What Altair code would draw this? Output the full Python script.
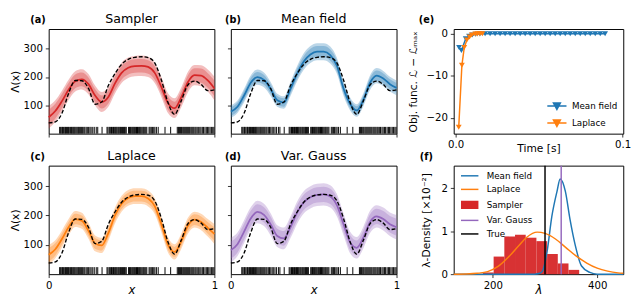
import altair as alt
import pandas as pd

FONT = "DejaVu Sans"
C_BLUE = "#1f77b4"
C_ORANGE = "#ff7f0e"
C_RED = "#d62728"
C_PURPLE = "#9467bd"

# ---------------- data: intensity panels (a)-(d) ----------------
x_grid = [0.00, 0.04, 0.08, 0.12, 0.16, 0.20, 0.24, 0.28, 0.32, 0.36, 0.40, 0.44, 0.48,
          0.52, 0.56, 0.60, 0.64, 0.68, 0.72, 0.76, 0.80, 0.84, 0.88, 0.92, 0.96, 1.00]
true_rate = [38, 42, 72, 142, 188, 187, 160, 104, 112, 170, 212, 245, 263,
             270, 272, 269, 250, 190, 110, 68, 116, 172, 186, 174, 152, 155]

sampler_mean = [58, 80, 115, 155, 185, 192, 175, 135, 112, 130, 178, 215, 233,
                239, 240, 236, 215, 165, 108, 90, 128, 182, 207, 205, 188, 160]
sampler_outer = [40, 38, 37, 36, 36, 36, 36, 35, 35, 35, 36, 36, 36,
                 36, 36, 36, 36, 35, 35, 35, 35, 36, 36, 37, 39, 42]
sampler_inner = [27, 26, 25, 24, 24, 24, 24, 23, 23, 23, 24, 24, 24,
                 24, 24, 24, 24, 23, 23, 23, 23, 24, 24, 25, 26, 28]

mf_mean = [78, 95, 135, 180, 200, 190, 158, 118, 110, 158, 212, 255, 280,
           290, 290, 278, 240, 160, 105, 82, 120, 180, 205, 195, 175, 162]
mf_outer = [22, 22, 24, 26, 27, 26, 25, 23, 22, 25, 27, 29, 30,
            30, 30, 30, 28, 26, 23, 22, 23, 26, 27, 27, 26, 26]
mf_inner = [15, 15, 16, 17, 18, 17, 16, 15, 15, 16, 18, 19, 20,
            20, 20, 20, 19, 17, 15, 15, 15, 17, 18, 18, 17, 17]

lap_mean = [66, 85, 120, 160, 188, 182, 148, 105, 98, 140, 200, 240, 260,
            266, 266, 258, 232, 170, 100, 76, 112, 165, 186, 178, 158, 137]
lap_outer = [34, 31, 29, 28, 27, 27, 27, 27, 26, 26, 27, 27, 27,
             27, 27, 27, 27, 27, 26, 26, 26, 27, 27, 28, 30, 34]
lap_inner = [23, 21, 19, 18, 18, 18, 18, 18, 17, 17, 18, 18, 18,
             18, 18, 18, 18, 18, 17, 17, 17, 18, 18, 19, 20, 23]

vg_mean = [82, 102, 145, 190, 212, 202, 170, 130, 122, 160, 210, 245, 262,
           270, 272, 265, 235, 170, 108, 90, 125, 178, 197, 188, 170, 160]
vg_outer = [42, 40, 39, 38, 38, 38, 38, 37, 37, 37, 38, 38, 38,
            38, 38, 38, 38, 37, 37, 37, 37, 38, 38, 39, 40, 42]
vg_inner = [29, 28, 27, 26, 26, 26, 26, 25, 25, 25, 26, 26, 26,
            26, 26, 26, 26, 25, 25, 25, 25, 26, 26, 27, 28, 29]

events = [0.066, 0.072, 0.079, 0.083, 0.090, 0.097, 0.101, 0.108, 0.113, 0.119, 0.124,
          0.131, 0.137, 0.142, 0.148, 0.153, 0.158, 0.164, 0.170, 0.176, 0.181, 0.187,
          0.193, 0.199, 0.205, 0.212, 0.218, 0.226, 0.233, 0.241, 0.249, 0.256, 0.266,
          0.275, 0.287, 0.296, 0.322, 0.352, 0.358, 0.366, 0.372, 0.379, 0.384, 0.391,
          0.396, 0.402, 0.407, 0.412, 0.418, 0.423, 0.429, 0.434, 0.440, 0.446, 0.451,
          0.457, 0.462, 0.468, 0.482, 0.488, 0.493, 0.498, 0.504, 0.509, 0.514, 0.519,
          0.525, 0.530, 0.536, 0.541, 0.547, 0.552, 0.557, 0.563, 0.569, 0.574, 0.580,
          0.586, 0.592, 0.606, 0.612, 0.619, 0.626, 0.634, 0.641, 0.650, 0.661, 0.702,
          0.736, 0.776, 0.783, 0.789, 0.796, 0.802, 0.809, 0.815, 0.821, 0.827, 0.833,
          0.839, 0.845, 0.851, 0.858, 0.864, 0.870, 0.876, 0.883, 0.889, 0.896, 0.903,
          0.912, 0.919, 0.927, 0.934, 0.943, 0.951, 0.958, 0.966, 0.974, 0.982, 0.990,
          0.997]

# ---------------- data: panel (e) ----------------
mf_time = [0.0020, 0.0034, 0.0060, 0.0080, 0.0100, 0.0120, 0.0145,
           0.0176, 0.0206, 0.0236, 0.0266, 0.0296, 0.0326, 0.0356, 0.0386, 0.0416,
           0.0446, 0.0476, 0.0506, 0.0536, 0.0566, 0.0596, 0.0626, 0.0656, 0.0686,
           0.0716, 0.0746, 0.0776, 0.0806, 0.0836, 0.0866, 0.0895]
mf_obj = [-3.3, -4.0, -1.2, -0.6, -0.3, -0.15, -0.05,
          0, 0, 0, 0, 0, 0, 0, 0, 0, 0, 0, 0, 0, 0, 0, 0, 0, 0, 0, 0, 0, 0, 0, 0, 0]
lap_time = [0.0018, 0.0037, 0.0051, 0.0067, 0.0083, 0.0096, 0.0117, 0.0130, 0.0145, 0.0160]
lap_obj = [-22.2, -7.5, -3.3, -1.5, -0.8, -0.3, -0.1, -0.05, 0.0, 0.0]
e_labels = ["Mean field", "Laplace"]

# ---------------- data: panel (f) ----------------
hist_left = [181, 201.5, 222, 242.5, 263, 283.5, 304, 324.5, 345]
hist_right = [201.5, 222, 242.5, 263, 283.5, 304, 324.5, 345, 365.5]
hist_density = [0.04, 0.41, 0.88, 0.92, 0.85, 0.77, 0.47, 0.25, 0.10]
lap_lam = [125, 150, 170, 190, 210, 230, 250, 265, 285, 300, 320, 340, 360, 380, 400, 420, 440, 450]
lap_dens = [0.0, 0.005, 0.02, 0.06, 0.18, 0.40, 0.67, 0.86, 0.98, 0.95, 0.82, 0.62, 0.42, 0.26,
            0.14, 0.07, 0.03, 0.02]
mfd_lam = [125, 280, 290, 295, 304, 313, 323, 329, 339, 348, 358, 370, 386, 400, 450]
mfd_dens = [0, 0, 0.02, 0.07, 0.53, 1.34, 1.93, 2.22, 1.93, 1.27, 0.67, 0.19, 0.04, 0, 0]
true_lambda = [300]
vg_lambda = [331]
f_labels = ["Mean field", "Laplace", "Sampler", "Var. Gauss", "True"]

# ---------------- layout ----------------
W12, W3 = 171, 175
H1, H2 = 108, 112

LINE_E = "M-2.2,0H2.2M-0.8,-0.7H0.8L0,0.8ZM-0.5,-0.45H0.5L0,0.4ZM-0.2,-0.25H0.2L0,0.05Z"
LINE_F = "M-2,0H2"
RECT_F = "M-2,-0.8H2M-2,-0.5H2M-2,-0.2H2M-2,0.1H2M-2,0.4H2M-2,0.7H2M-2,0.8H2"


def label_text(txt, dx, size, bold=False, opacity=1.0, align="left"):
    return alt.Chart(pd.DataFrame({"t": [txt]})).mark_text(
        font=FONT, fontSize=size, fontWeight="bold" if bold else "normal",
        baseline="alphabetic", align=align, color="black", opacity=opacity
    ).encode(text="t:N", x=alt.value(dx), y=alt.value(-6))


def rate_panel(title, tag, tag_dx, mean, inner, outer, color, width, height, bottom, left):
    df = pd.DataFrame({
        "x": x_grid, "mean": mean, "true": true_rate,
        "lo_o": [m - w for m, w in zip(mean, outer)],
        "hi_o": [m + w for m, w in zip(mean, outer)],
        "lo_i": [m - w for m, w in zip(mean, inner)],
        "hi_i": [m + w for m, w in zip(mean, inner)],
    })
    xs = alt.Scale(domain=[0, 1], nice=False, zero=False)
    ys = alt.Scale(domain=[0, 370], nice=False, zero=False)
    if bottom:
        xax = alt.Axis(values=[0, 1], format="d", title="x", titleFontStyle="italic",
                       titleFontSize=12, titleY=20, titleBaseline="alphabetic")
    else:
        xax = alt.Axis(values=[0, 1], labels=False, title=None)
    if left:
        yax = alt.Axis(values=[100, 200, 300], format="d", title="Λ(x)", titlePadding=3)
    else:
        yax = alt.Axis(values=[100, 200, 300], labels=False, title=None)
    X = alt.X("x:Q", scale=xs, axis=xax)
    base = alt.Chart(df)
    l_out = base.mark_area(color=color, opacity=0.3, interpolate="monotone").encode(
        x=X, y=alt.Y("lo_o:Q", scale=ys, axis=yax), y2="hi_o:Q")
    l_in = base.mark_area(color=color, opacity=0.3, interpolate="monotone").encode(
        x=X, y=alt.Y("lo_i:Q", scale=ys, axis=yax), y2="hi_i:Q")
    l_mean = base.mark_line(color=color, strokeWidth=1.8, interpolate="monotone").encode(
        x=X, y=alt.Y("mean:Q", scale=ys, axis=yax))
    l_true = base.mark_line(color="black", strokeWidth=1.4, strokeDash=[4, 2],
                            interpolate="monotone").encode(
        x=X, y=alt.Y("true:Q", scale=ys, axis=yax))
    rug = alt.Chart(pd.DataFrame({"ev": events})).mark_rule(color="black", strokeWidth=1).encode(
        x=alt.X("ev:Q", scale=xs, axis=xax),
        y=alt.YDatum(0, scale=ys, axis=yax), y2=alt.datum(24))
    ttl = label_text(title, width / 2, 13, align="center")
    tg = label_text(tag, tag_dx, 10, bold=True)
    return alt.layer(l_out, l_in, l_mean, l_true, rug, ttl, tg).properties(width=width, height=height)


def obj_panel(width, height):
    xs = alt.Scale(domain=[-0.0012, 0.1004], nice=False, zero=False)
    ys = alt.Scale(domain=[-23.7, 1.1], nice=False, zero=False)
    xax = alt.Axis(values=[0, 0.1], format=".1f", title="Time [s]", titleY=18,
                   titleBaseline="alphabetic")
    yax = alt.Axis(values=[-20, -10, 0], format="d", title="Obj. func. ℒ − ℒₘₐₓ", titlePadding=8)
    mf = alt.Chart(pd.DataFrame({"t": mf_time, "v": mf_obj})).mark_line(
        color=C_BLUE, strokeWidth=1.5,
        point=alt.OverlayMarkDef(shape="triangle-down", filled=True, size=36, color=C_BLUE, opacity=1)
    ).encode(x=alt.X("t:Q", scale=xs, axis=xax), y=alt.Y("v:Q", scale=ys, axis=yax))
    lp = alt.Chart(pd.DataFrame({"t": lap_time, "v": lap_obj})).mark_line(
        color=C_ORANGE, strokeWidth=1.5,
        point=alt.OverlayMarkDef(shape="triangle-down", filled=True, size=36, color=C_ORANGE, opacity=1)
    ).encode(x=alt.X("t:Q", scale=xs, axis=xax), y=alt.Y("v:Q", scale=ys, axis=yax))
    leg_args = dict(title=None, orient="none", legendX=101, legendY=74, labelFontSize=9,
                    labelFont=FONT, labelColor="black", symbolSize=81, symbolStrokeWidth=1.5,
                    symbolOpacity=1, labelOffset=10, rowPadding=3.5, padding=0)
    leg = alt.Chart(pd.DataFrame({"lab_e": e_labels})).mark_point(filled=False).encode(
        x=alt.XDatum(0.05, scale=xs, axis=xax), y=alt.YDatum(-10, scale=ys, axis=yax),
        color=alt.Color("lab_e:N", scale=alt.Scale(domain=e_labels, range=[C_BLUE, C_ORANGE]),
                        legend=alt.Legend(**leg_args)),
        shape=alt.Shape("lab_e:N", scale=alt.Scale(domain=e_labels, range=[LINE_E, LINE_E]),
                        legend=alt.Legend(**leg_args)),
        opacity=alt.value(0))
    spacer = label_text("Mean field", width / 2, 13, opacity=0, align="center")
    tg = label_text("(e)", -36, 10, bold=True)
    return alt.layer(mf, lp, leg, spacer, tg).properties(width=width, height=height)


def dens_panel(width, height):
    xs = alt.Scale(domain=[125, 450], nice=False, zero=False)
    ys = alt.Scale(domain=[0, 2.53], nice=False, zero=False)
    xax = alt.Axis(values=[200, 400], format="d", title="λ", titleFontStyle="italic",
                   titleFontSize=12, titleY=19.5, titleBaseline="alphabetic")
    yax = alt.Axis(values=[0, 1, 2], format="d", title="λ-Density [×10⁻²]", titlePadding=10)
    hist = alt.Chart(pd.DataFrame({"l": hist_left, "r": hist_right, "d": hist_density})).mark_bar(
        color=C_RED, opacity=0.95).encode(
        x=alt.X("l:Q", scale=xs, axis=xax), x2="r:Q",
        y=alt.Y("d:Q", scale=ys, axis=yax), y2=alt.datum(0))
    mf = alt.Chart(pd.DataFrame({"lam": mfd_lam, "d": mfd_dens})).mark_line(
        color=C_BLUE, strokeWidth=1.5, interpolate="monotone").encode(
        x=alt.X("lam:Q", scale=xs, axis=xax), y=alt.Y("d:Q", scale=ys, axis=yax))
    lp = alt.Chart(pd.DataFrame({"lam": lap_lam, "d": lap_dens})).mark_line(
        color=C_ORANGE, strokeWidth=1.5, interpolate="monotone").encode(
        x=alt.X("lam:Q", scale=xs, axis=xax), y=alt.Y("d:Q", scale=ys, axis=yax))
    vg = alt.Chart(pd.DataFrame({"v": vg_lambda})).mark_rule(color=C_PURPLE, strokeWidth=1.5).encode(
        x=alt.X("v:Q", scale=xs, axis=xax))
    tr = alt.Chart(pd.DataFrame({"v": true_lambda})).mark_rule(color="black", strokeWidth=1.5).encode(
        x=alt.X("v:Q", scale=xs, axis=xax))
    leg_args = dict(title=None, orient="none", legendX=11, legendY=5, labelFontSize=9,
                    labelFont=FONT, labelColor="black", symbolSize=81, symbolStrokeWidth=1.5,
                    symbolOpacity=1, labelOffset=12, rowPadding=3, padding=0)
    leg = alt.Chart(pd.DataFrame({"lab_f": f_labels})).mark_point(filled=False).encode(
        x=alt.XDatum(200, scale=xs, axis=xax), y=alt.YDatum(1, scale=ys, axis=yax),
        color=alt.Color("lab_f:N", scale=alt.Scale(domain=f_labels,
                        range=[C_BLUE, C_ORANGE, C_RED, C_PURPLE, "black"]),
                        legend=alt.Legend(**leg_args)),
        shape=alt.Shape("lab_f:N", scale=alt.Scale(domain=f_labels,
                        range=[LINE_F, LINE_F, RECT_F, LINE_F, LINE_F]),
                        legend=alt.Legend(**leg_args)),
        opacity=alt.value(0))
    tg = label_text("(f)", -35, 10, bold=True)
    return alt.layer(hist, mf, lp, vg, tr, leg, tg).properties(width=width, height=height)


pa = rate_panel("Sampler", "(a)", -19, sampler_mean, sampler_inner, sampler_outer, C_RED, W12, H1, False, True)
pb = rate_panel("Mean field", "(b)", -6, mf_mean, mf_inner, mf_outer, C_BLUE, W12, H1, False, False)
pc = rate_panel("Laplace", "(c)", -19, lap_mean, lap_inner, lap_outer, C_ORANGE, W12, H2, True, True)
pd_ = rate_panel("Var. Gauss", "(d)", -6, vg_mean, vg_inner, vg_outer, C_PURPLE, W12, H2, True, False)
pe = obj_panel(W3, H1)
pf = dens_panel(W3, H2)

col1 = alt.vconcat(pa, pc, spacing=33, bounds="flush")
col2 = alt.vconcat(pb, pd_, spacing=33, bounds="flush")
col3 = alt.vconcat(pe, pf, spacing=33, bounds="flush").resolve_scale(color="independent", shape="independent")

chart = alt.hconcat(col1, col2, col3, spacing=5).resolve_scale(
    color="independent", shape="independent"
).properties(padding=0).configure(font=FONT).configure_view(
    stroke="black", strokeWidth=1
).configure_axis(
    domain=False, grid=False, tickColor="black", tickSize=3.5, tickWidth=0.8,
    labelFont=FONT, labelFontSize=10.5, labelColor="black", labelPadding=3, labelFlush=False,
    titleFont=FONT, titleFontSize=11, titleFontWeight="normal", titleColor="black"
)

chart.save("out.html", embed_options={"renderer": "svg", "actions": False})
